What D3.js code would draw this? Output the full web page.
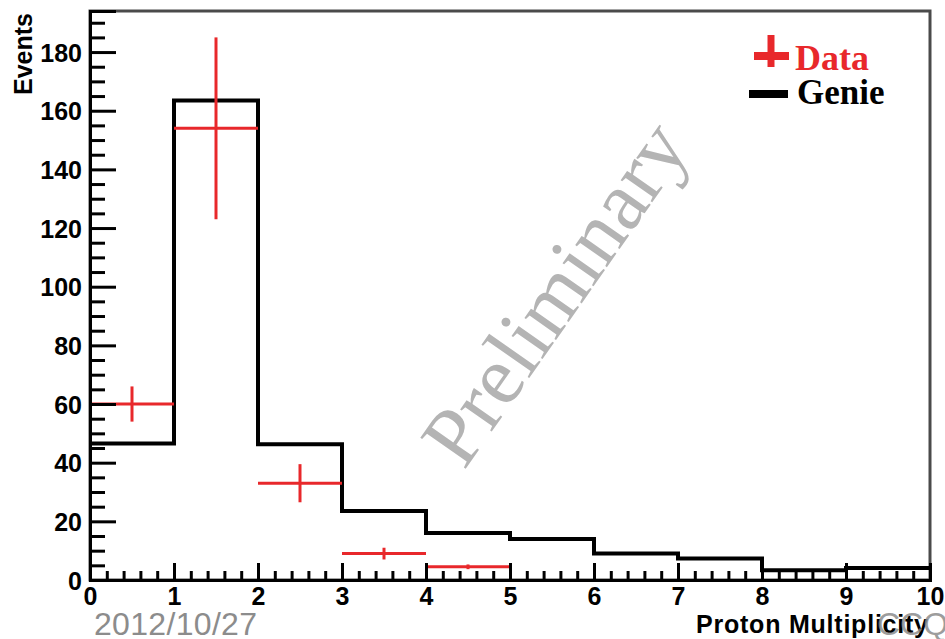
<!DOCTYPE html>
<html>
<head>
<meta charset="utf-8">
<script src="https://cdn.jsdelivr.net/npm/d3@7"></script>
<style>
html,body{margin:0;padding:0;background:#fff;}
svg{display:block;}
</style>
</head>
<body>
<svg id="chart" width="945" height="639"></svg>
<script>
// ---- data ----
const binEdges = [0, 1, 2, 3, 4, 5, 6, 7, 8, 9, 10];
const genieValues = [46.5, 163.5, 46.3, 23.5, 16, 14, 9, 7.3, 3.3, 4.1];
const dataBins = [0, 1, 2, 3, 4];
const dataValues = [60, 154, 33, 9, 4.5];
const dataErrors = [6, 31, 6.5, 2, 0.8];
const yMajorTicks = [0, 20, 40, 60, 80, 100, 120, 140, 160, 180];
const xMajorTicks = [0, 1, 2, 3, 4, 5, 6, 7, 8, 9, 10];
const legendLabels = ["Data", "Genie"];
const xTitle = "Proton Multiplicity";
const yTitle = "Events";
const watermark = "Preliminary";
const footerLeft = "2012/10/27";
const footerRight = "CCQE";

// ---- layout ----
const svg = d3.select("#chart");
const X0 = 90, X1 = 930, Y0 = 580, Y1 = 11;
const x = d3.scaleLinear().domain([0, 10]).range([X0, X1]);
const y = d3.scaleLinear().domain([0, 194]).range([Y0, Y1]);
const red = "#e8282b";

// footer date
svg.append("text").attr("x", 94).attr("y", 635)
  .attr("font-family", "Liberation Sans, Arial, sans-serif").attr("font-size", 32)
  .attr("fill", "#8c8c8c").attr("textLength", 163).text(footerLeft);

// watermark
svg.append("text")
  .attr("transform", "translate(555,293) rotate(-55)")
  .attr("text-anchor", "middle").attr("dy", "0.33em")
  .attr("font-family", "Liberation Serif, Times New Roman, serif")
  .attr("font-size", 84).attr("fill", "#b4b4b4").text(watermark);

// frame (top/right)
svg.append("rect").attr("x", X0).attr("y", Y1).attr("width", X1 - X0).attr("height", Y0 - Y1)
  .attr("fill", "none").attr("stroke", "#4a4a4a").attr("stroke-width", 3);

// genie histogram
const stepPts = genieValues.map((v, i) => [binEdges[i], v]);
stepPts.push([binEdges[binEdges.length - 1], genieValues[genieValues.length - 1]]);
const stepLine = d3.line().x(d => x(d[0])).y(d => y(d[1])).curve(d3.curveStepAfter);
svg.append("path").attr("d", stepLine(stepPts))
  .attr("fill", "none").attr("stroke", "#000").attr("stroke-width", 4)
  .attr("stroke-linejoin", "miter").attr("stroke-linecap", "butt");

// data error bars
const dg = svg.append("g").attr("stroke", red).attr("stroke-width", 3);
dataBins.forEach((b, i) => {
  dg.append("line").attr("x1", x(b)).attr("x2", x(b + 1))
    .attr("y1", y(dataValues[i])).attr("y2", y(dataValues[i]));
  dg.append("line").attr("x1", x(b + 0.5)).attr("x2", x(b + 0.5))
    .attr("y1", y(dataValues[i] - dataErrors[i])).attr("y2", y(dataValues[i] + dataErrors[i]));
});

// axes
const tickFont = "Liberation Sans, Arial, sans-serif";
const yMinor = d3.range(0, 194, 5).filter(v => v % 20 !== 0);
const xMinor = d3.range(0, 10.001, 0.2).map(v => +v.toFixed(1)).filter(v => Math.abs(v - Math.round(v)) > 1e-6);

const yAxis = svg.append("g").attr("transform", `translate(${X0},0)`)
  .call(d3.axisLeft(y).tickValues(yMajorTicks).tickSize(-26).tickPadding(8).tickFormat(d3.format("d")));
const yAxisMinor = svg.append("g").attr("transform", `translate(${X0},0)`)
  .call(d3.axisLeft(y).tickValues(yMinor).tickSize(-15).tickFormat(""));
const xAxis = svg.append("g").attr("transform", `translate(0,${Y0})`)
  .call(d3.axisBottom(x).tickValues(xMajorTicks).tickSize(-17).tickPadding(7).tickFormat(d3.format("d")));
const xAxisMinor = svg.append("g").attr("transform", `translate(0,${Y0})`)
  .call(d3.axisBottom(x).tickValues(xMinor).tickSize(-9).tickFormat(""));

[yAxis, yAxisMinor, xAxis, xAxisMinor].forEach(g => {
  g.select(".domain").attr("stroke", "#000").attr("stroke-width", 3);
  g.selectAll(".tick line").attr("stroke", "#000").attr("stroke-width", 3);
  g.selectAll("text").attr("font-family", tickFont).attr("font-size", 25)
    .attr("font-weight", "bold").attr("fill", "#000");
});
yAxis.selectAll(".tick text").attr("dy", "0.36em");

// axis titles
svg.append("text").attr("transform", "translate(32,13) rotate(-90)")
  .attr("text-anchor", "end").attr("font-family", tickFont).attr("font-size", 25)
  .attr("font-weight", "bold").text(yTitle);
svg.append("text").attr("x", 928).attr("y", 633).attr("text-anchor", "end")
  .attr("font-family", tickFont).attr("font-size", 25).attr("font-weight", "bold")
  .attr("textLength", 232).text(xTitle);

// legend
const lg = svg.append("g");
lg.append("line").attr("x1", 771).attr("x2", 771).attr("y1", 35).attr("y2", 67)
  .attr("stroke", red).attr("stroke-width", 7);
lg.append("line").attr("x1", 754).attr("x2", 789).attr("y1", 56).attr("y2", 56)
  .attr("stroke", red).attr("stroke-width", 8);
lg.append("text").attr("x", 795).attr("y", 70).attr("font-family", "Liberation Serif, Times New Roman, serif")
  .attr("font-size", 36).attr("font-weight", "bold").attr("fill", red).text(legendLabels[0]);
lg.append("line").attr("x1", 749).attr("x2", 788).attr("y1", 94).attr("y2", 94)
  .attr("stroke", "#000").attr("stroke-width", 8);
lg.append("text").attr("x", 797).attr("y", 104).attr("font-family", "Liberation Serif, Times New Roman, serif")
  .attr("font-size", 35).attr("font-weight", "bold").attr("fill", "#000").text(legendLabels[1]);

// footer right
svg.append("text").attr("x", 877).attr("y", 635)
  .attr("font-family", "Liberation Sans, Arial, sans-serif").attr("font-size", 32)
  .attr("fill", "#8c8c8c").attr("fill-opacity", 0.85).text(footerRight);
</script>
</body>
</html>
